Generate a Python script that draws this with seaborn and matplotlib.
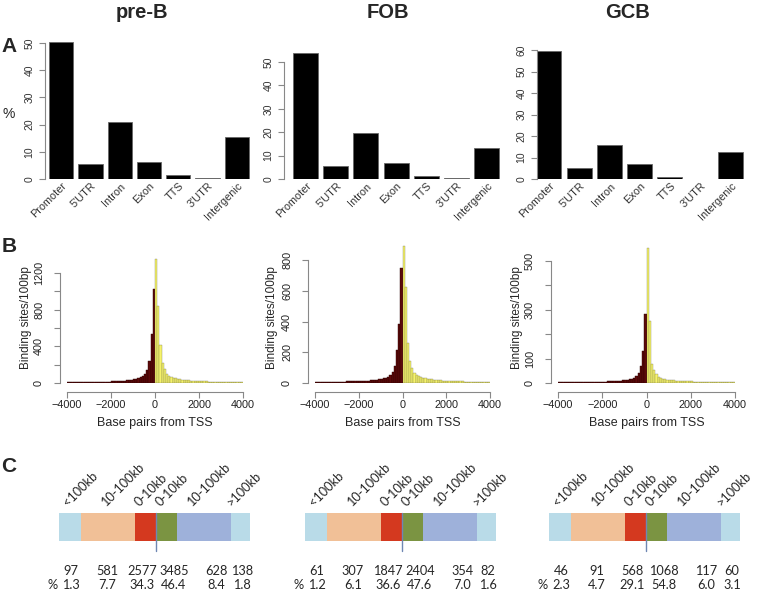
import numpy as np
import pandas as pd
import matplotlib
matplotlib.use("Agg")
import matplotlib.pyplot as plt
import matplotlib.transforms as mtrans
import seaborn as sb

sb.set_style("white")
plt.rcParams['font.family'] = ['Liberation Sans', 'DejaVu Sans']

# DATA
#-----------------------------------
samples = ["pre-B", "FOB", "GCB"]
features = ["Promoter", "5'UTR", "Intron", "Exon", "TTS", "3'UTR", "Intergenic"]

pct_preb = [50.2, 5.5, 20.9, 6.2, 1.4, 0.3, 15.4]
pct_fob = [53.8, 5.7, 19.8, 6.7, 1.3, 0.3, 13.4]
pct_gcb = [59.4, 5.0, 16.0, 6.8, 1.1, 0.2, 12.5]

# binding sites per 100bp bin, upstream (-4000..0) and downstream (0..4000)
up_preb = [8, 8, 8, 9, 9, 10, 10, 10, 11, 11, 12, 12, 13, 13, 14, 14, 15, 15, 16, 16,
           17, 18, 20, 21, 23, 25, 27, 29, 32, 36, 40, 47, 54, 65, 76, 101, 137, 238, 534, 1025]
down_preb = [1347, 841, 419, 220, 155, 101, 76, 69, 58, 51, 43, 40, 36, 33, 30, 28, 26, 24, 22, 21,
             20, 19, 18, 17, 16, 15, 14, 14, 13, 12, 12, 11, 11, 10, 10, 9, 9, 9, 8, 8]
up_fob = [6, 6, 6, 7, 7, 7, 7, 8, 8, 8, 8, 9, 9, 9, 10, 10, 10, 11, 11, 12,
          12, 13, 14, 15, 16, 17, 18, 20, 22, 24, 27, 30, 35, 42, 52, 72, 110, 217, 387, 750]
down_fob = [893, 622, 261, 140, 95, 68, 52, 45, 38, 33, 30, 27, 25, 23, 21, 19, 18, 17, 16, 15,
            14, 13, 13, 12, 11, 11, 10, 10, 9, 9, 8, 8, 8, 7, 7, 7, 6, 6, 6, 6]
up_gcb = [3, 3, 3, 3, 3, 4, 4, 4, 4, 4, 4, 5, 5, 5, 5, 5, 5, 6, 6, 6,
          6, 6, 7, 7, 8, 8, 9, 9, 10, 11, 12, 13, 15, 18, 22, 28, 40, 68, 131, 281]
down_gcb = [555, 253, 79, 52, 35, 26, 21, 18, 16, 14, 13, 12, 11, 10, 9, 9, 8, 8, 7, 7,
            7, 6, 6, 6, 6, 5, 5, 5, 5, 5, 4, 4, 4, 4, 4, 4, 3, 3, 3, 3]

dist_labels = ["<100kb", "10-100kb", "0-10kb", "0-10kb", "10-100kb", ">100kb"]
counts_preb = [97, 581, 2577, 3485, 628, 138]
counts_fob = [61, 307, 1847, 2404, 354, 82]
counts_gcb = [46, 91, 568, 1068, 117, 60]
share_preb = ["1.3", "7.7", "34.3", "46.4", "8.4", "1.8"]
share_fob = ["1.2", "6.1", "36.6", "47.6", "7.0", "1.6"]
share_gcb = ["2.3", "4.7", "29.1", "54.8", "6.0", "3.1"]

# LAYOUT (pixels)
#-----------------------------------
W, H = 760, 593
seg_widths = [22, 54, 21, 21, 54, 19]
seg_colors = ["#b9dbe8", "#f1c097", "#d4391f", "#7b9442", "#9eb1da", "#b9dbe8"]
label_x = [9, 47, 81, 102, 133, 173]
count_x = [12, 48, 83, 115, 157, 183]
cfont = ["Lato", "DejaVu Sans"]


def px_axes(fig, left, top, right, bottom):
    return fig.add_axes([left / W, 1 - bottom / H, (right - left) / W, (bottom - top) / H])


fig = plt.figure(figsize=(W / 100, H / 100), dpi=100)
shift = mtrans.ScaledTranslation(0.04, 0, fig.dpi_scale_trans)

# ROW A: GENOMIC FEATURES
#-----------------------------------
row_a = [
    (pct_preb, (45, 250), (-0.556, 6.45), 51.1, 50),
    (pct_fob, (284, 500), (-0.72, 6.45), 59.4, 50),
    (pct_gcb, (537, 744), (-0.39, 6.45), 64.7, 60),
]
for vals, (l, r), xl, ytop, ymaxtick in row_a:
    ax = px_axes(fig, l, 40, r, 179)
    df = pd.DataFrame({"feature": features, "pct": vals})
    sb.barplot(data=df, x="feature", y="pct", ax=ax, color="black", saturation=1,
               width=0.83, edgecolor="#666666", linewidth=0.6)
    ax.set_xlim(*xl)
    ax.set_ylim(0, ytop)
    ax.set_xlabel("")
    ax.set_ylabel("")
    for s in ["top", "right", "bottom"]:
        ax.spines[s].set_visible(False)
    ax.spines["left"].set_color("#888888")
    ax.spines["left"].set_linewidth(0.8)
    ax.spines["left"].set_bounds(0, ymaxtick)
    ax.set_yticks(np.arange(0, ymaxtick + 1, 10))
    ax.tick_params(axis="y", labelrotation=90, labelsize=7.5, length=4, width=0.8,
                   color="#888888", labelcolor="#333333", pad=3.5, left=True)
    for t in ax.get_yticklabels():
        t.set_va("center")
    ax.tick_params(axis="x", length=0, pad=4)
    ax.set_xticks(range(len(features)))
    ax.set_xticklabels(features, rotation=45, ha="right", va="center", rotation_mode="anchor",
                       fontsize=7.8, color="#333333")
    for t in ax.get_xticklabels():
        t.set_transform(t.get_transform() + shift)
    ax.patch.set_alpha(0)

# ROW B: DISTANCE TO TSS HISTOGRAMS
#-----------------------------------
centers = np.arange(-3950, 4000, 100)
row_b = [
    (up_preb, down_preb, (67, 243), 1505, np.arange(0, 1201, 200), ["0", "", "400", "", "800", "", "1200"]),
    (up_fob, down_fob, (315, 490), 898, np.arange(0, 801, 200), ["0", "200", "400", "600", "800"]),
    (up_gcb, down_gcb, (558, 735), 565.6, np.arange(0, 501, 100), ["0", "100", "", "300", "", "500"]),
]
ylabel_x = [26, 272, 517]
for i, (up, down, (l, r), ytop, yt, ytl) in enumerate(row_b):
    ax = px_axes(fig, l, 245, r, 383)
    up_df = pd.DataFrame({"pos": centers[:40], "n": up})
    down_df = pd.DataFrame({"pos": centers[40:], "n": down})
    sb.histplot(data=up_df, x="pos", weights="n", binwidth=100, binrange=(-4000, 0), ax=ax,
                color="#5c0a0a", alpha=1, edgecolor="#2a0000", linewidth=0.3)
    sb.histplot(data=down_df, x="pos", weights="n", binwidth=100, binrange=(0, 4000), ax=ax,
                color="#f6f36a", alpha=1, edgecolor="#5a5a40", linewidth=0.2)
    ax.set_xlim(-4000, 4000)
    ax.set_ylim(0, ytop)
    ax.set_xlabel("Base pairs from TSS", fontsize=9, labelpad=5)
    ax.set_ylabel("")
    fig.text(ylabel_x[i] / W, 1 - 318 / H, "Binding sites/100bp", rotation=90,
             ha="center", va="center", fontsize=8.5)
    for s in ["top", "right"]:
        ax.spines[s].set_visible(False)
    ax.spines["left"].set_position(("outward", 5))
    ax.spines["bottom"].set_position(("outward", 6.5))
    for s in ["left", "bottom"]:
        ax.spines[s].set_color("#888888")
        ax.spines[s].set_linewidth(0.8)
    ax.spines["left"].set_bounds(0, yt[-1])
    ax.spines["bottom"].set_bounds(-4000, 4000)
    ax.set_xticks([-4000, -2000, 0, 2000, 4000])
    ax.set_yticks(yt)
    ax.set_yticklabels(ytl)
    ax.tick_params(axis="both", labelsize=7.8, length=4, width=0.8, color="#888888",
                   labelcolor="#222222", pad=2, left=True, bottom=True)
    ax.tick_params(axis="y", labelrotation=90, pad=7.5)
    for t in ax.get_yticklabels():
        t.set_va("center")
    ax.patch.set_alpha(0)

# ROW C: DISTANCE TO NEAREST GENE
#-----------------------------------
row_c = [(counts_preb, share_preb, 59), (counts_fob, share_fob, 305), (counts_gcb, share_gcb, 549)]
for counts, shares, l in row_c:
    ax = px_axes(fig, l, 455, l + 191, 593)
    lefts = np.concatenate([[0], np.cumsum(seg_widths)[:-1]])
    ax.barh(y=[72] * 6, width=seg_widths, left=lefts, height=28, color=seg_colors,
            linewidth=0)
    mid = lefts[3]
    ax.plot([mid, mid], [58, 96], color="#6f87b3", lw=1)
    ax.set_xlim(0, 191)
    ax.set_ylim(138, 0)
    ax.axis("off")
    for x, lab in zip(label_x, dist_labels):
        ax.text(x, 52, lab, rotation=45, rotation_mode="anchor", ha="left", va="baseline",
                fontsize=9.2, family=cfont)
    for x, c, s in zip(count_x, counts, shares):
        ax.text(x, 116, str(c), ha="center", va="center", fontsize=9.2, family=cfont)
        ax.text(x, 130, s, ha="center", va="center", fontsize=9.2, family=cfont)
    ax.text(-6, 130, "%", ha="center", va="center", fontsize=9.2, family=cfont)

# TITLES AND PANEL LETTERS
#-----------------------------------
for name, x in zip(samples, [142, 388, 628]):
    fig.text(x / W, 1 - 13 / H, name, ha="center", va="center", fontsize=14.5, fontweight="bold")
for letter, y in zip(["A", "B", "C"], [46, 246, 466]):
    fig.text(9 / W, 1 - y / H, letter, ha="center", va="center", fontsize=15, fontweight="bold")
fig.text(9 / W, 1 - 114 / H, "%", ha="center", va="center", fontsize=10)

fig.savefig("out.png", dpi=100)
